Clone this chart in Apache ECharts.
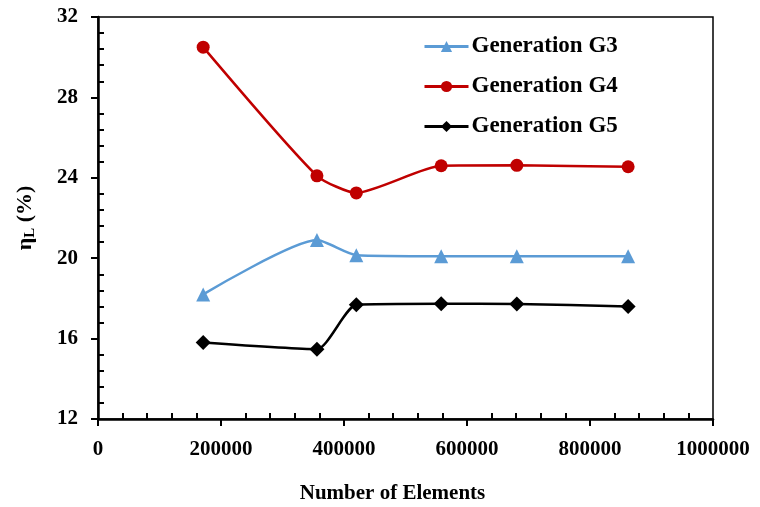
<!DOCTYPE html>
<html><head><meta charset="utf-8">
<script src="https://cdn.jsdelivr.net/npm/echarts@6/dist/echarts.min.js"></script>
<style>html,body{margin:0;padding:0;background:#fff}#c{width:760px;height:507px}</style>
</head><body><div id="c"></div>
<script>
const elements = [171000, 356000, 420000, 558000, 681000, 862000];
const g3 = [18.2, 20.9, 20.15, 20.1, 20.1, 20.1];
const g4 = [30.5, 24.1, 23.25, 24.6, 24.62, 24.55];
const g5 = [15.8, 15.47, 17.68, 17.73, 17.72, 17.6];
const seriesNames = ['Generation G3', 'Generation G4', 'Generation G5'];
const xTicks = [0, 200000, 400000, 600000, 800000, 1000000];
const yTicks = [12, 16, 20, 24, 28, 32];

const font = '"Liberation Serif","Times New Roman",serif';
const pair = arr => elements.map((x, i) => [x, arr[i]]);
const chart = echarts.init(document.getElementById('c'), null, {renderer: 'canvas'});
const mk = (name, data, color, symbol, size) => ({
  name, type: 'line', data: pair(data), smooth: 0.2,
  symbol, symbolSize: size, showSymbol: true,
  lineStyle: {color, width: 2.5}, itemStyle: {color},
  z: 3
});
chart.setOption({
  animation: false,
  backgroundColor: '#fff',
  grid: {left: 98, right: 47, top: 17, bottom: 88, show: true, borderColor: '#000', borderWidth: 1.5, backgroundColor: 'transparent', containLabel: false, outerBoundsMode: 'none'},
  legend: {
    orient: 'vertical', left: 418, top: 30, itemGap: 17, itemWidth: 44, itemHeight: 14,
    lineStyle: {width: 3},
    textStyle: {fontFamily: font, fontWeight: 'bold', fontSize: 23, color: '#000', padding: [0, 0, 0, -2]},
    data: seriesNames
  },
  xAxis: {
    type: 'value', min: xTicks[0], max: xTicks[xTicks.length - 1], interval: 200000,
    name: 'Number of Elements', nameLocation: 'middle', nameGap: 64,
    nameTextStyle: {fontFamily: font, fontWeight: 'bold', fontSize: 21, color: '#000', padding: [0, 26, 0, 0]},
    axisLine: {show: true, lineStyle: {color: '#000', width: 2.5}},
    axisTick: {show: true, length: 7, lineStyle: {color: '#000', width: 2}},
    minorTick: {show: true, splitNumber: 5, length: -6, lineStyle: {color: '#000', width: 2}},
    splitLine: {show: false},
    axisLabel: {fontFamily: font, fontWeight: 'bold', fontSize: 21, color: '#000', margin: 20, formatter: v => String(v)}
  },
  yAxis: {
    type: 'value', min: yTicks[0], max: yTicks[yTicks.length - 1], interval: 4,
    name: '{a|η}{b|L}{a| (%)}', nameLocation: 'middle', nameGap: 60, nameRotate: 90,
    nameTextStyle: {
      rich: {
        a: {fontFamily: font, fontWeight: 'bold', fontSize: 22, color: '#000'},
        b: {fontFamily: font, fontWeight: 'bold', fontSize: 15, color: '#000', verticalAlign: 'bottom', padding: [10, 0, 0, 0]}
      }
    },
    axisLine: {show: true, lineStyle: {color: '#000', width: 2.5}},
    axisTick: {show: true, length: 7, lineStyle: {color: '#000', width: 2}},
    minorTick: {show: true, splitNumber: 5, length: -6, lineStyle: {color: '#000', width: 2}},
    splitLine: {show: false},
    axisLabel: {fontFamily: font, fontWeight: 'bold', fontSize: 21, color: '#000', margin: 20}
  },
  series: [
    mk(seriesNames[0], g3, '#5B9BD5', 'triangle', 14),
    mk(seriesNames[1], g4, '#C00000', 'circle', 13),
    mk(seriesNames[2], g5, '#000000', 'diamond', 15)
  ]
});
</script></body></html>
